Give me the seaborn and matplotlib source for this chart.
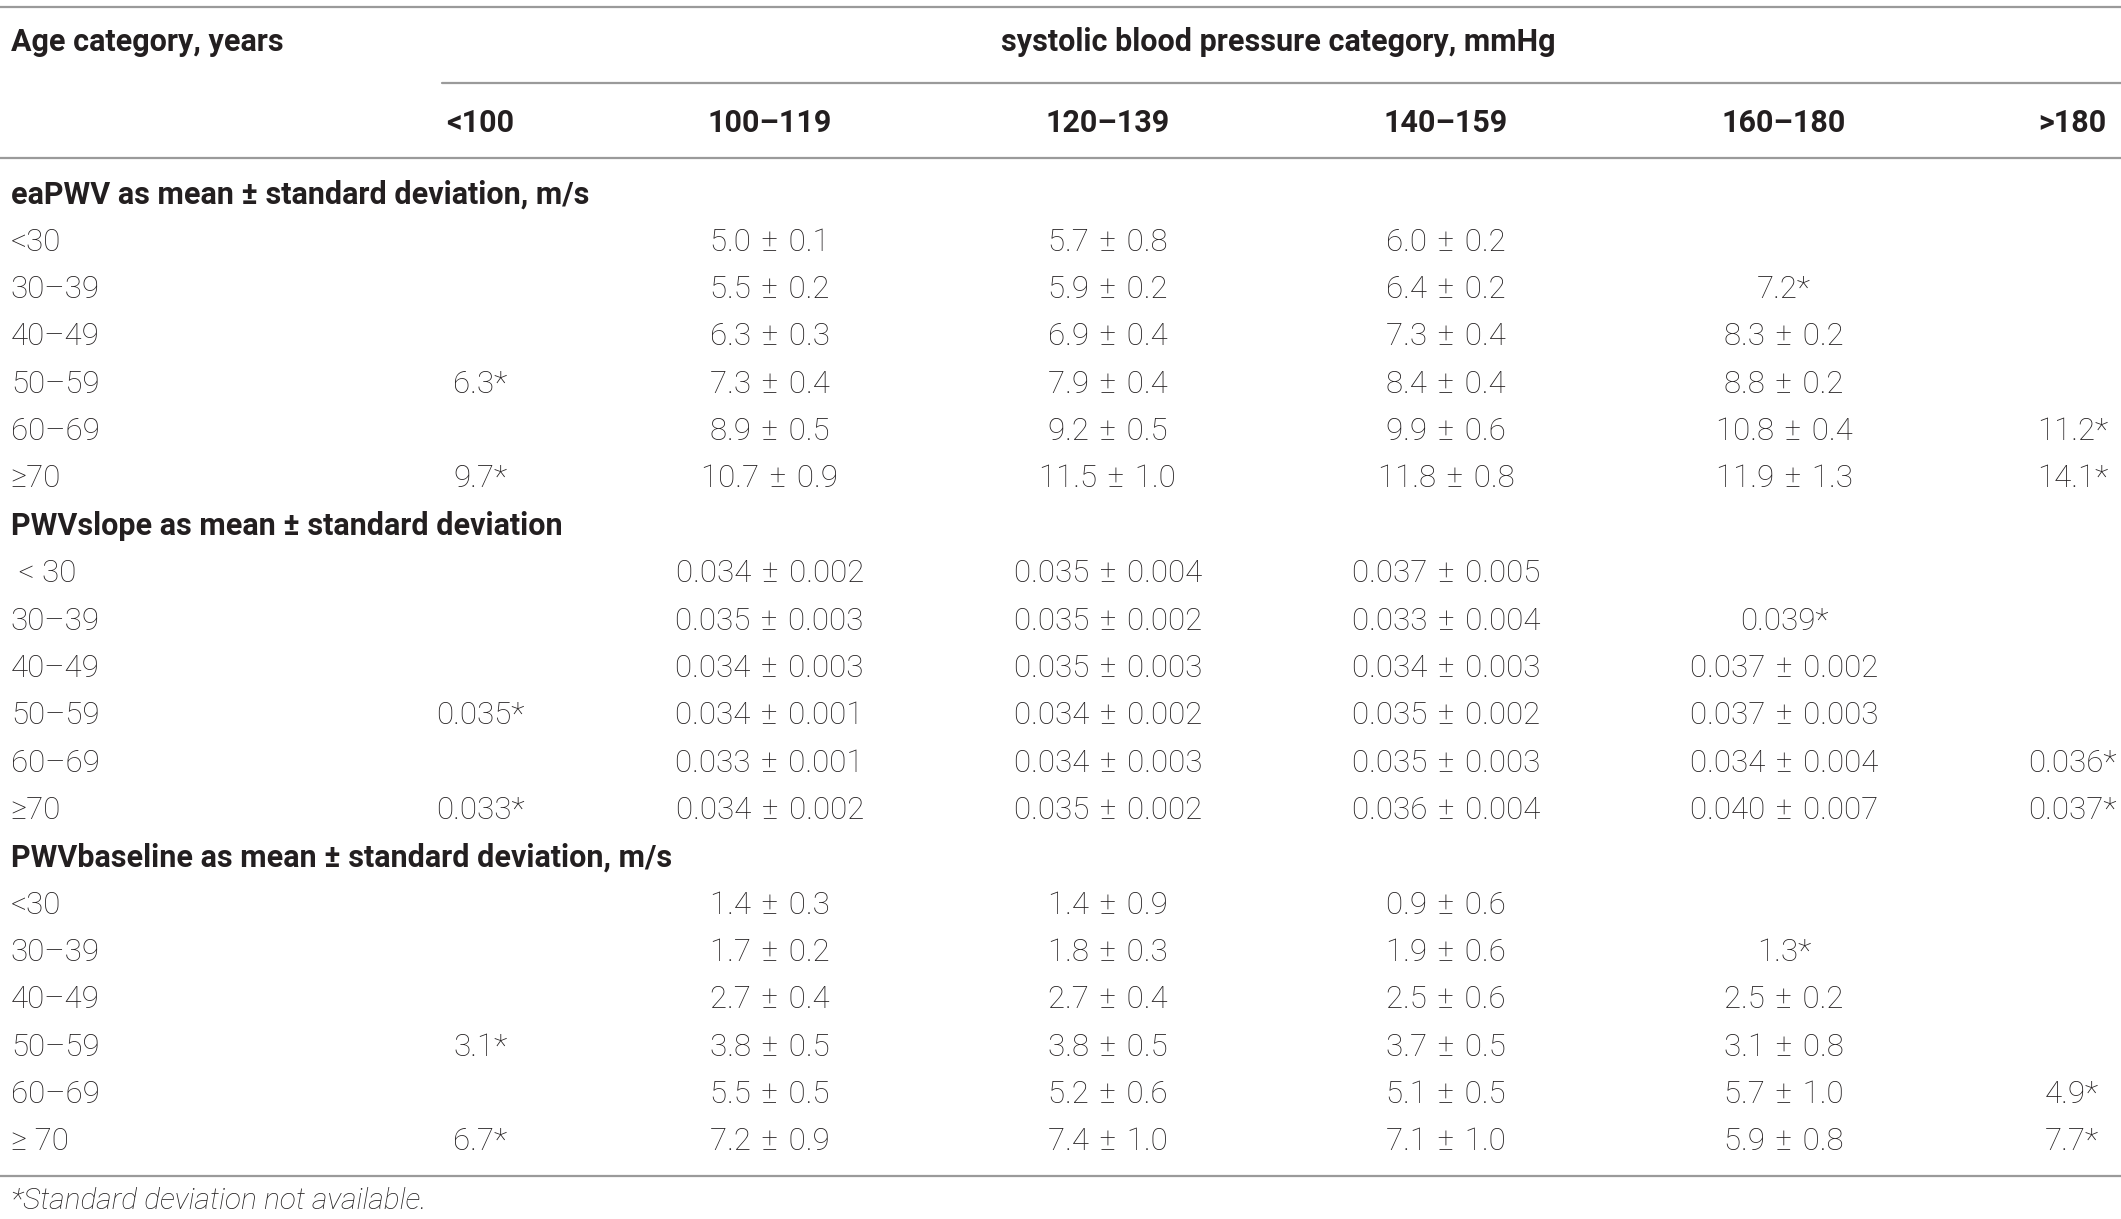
import numpy as np
import matplotlib
matplotlib.use("Agg")
import matplotlib.pyplot as plt
import seaborn as sns

# ---------------- data ----------------
sbp_categories = ["<100", "100–119", "120–139", "140–159", "160–180", ">180"]

sections = [
    "eaPWV as mean ± standard deviation, m/s",
    "PWVslope as mean ± standard deviation",
    "PWVbaseline as mean ± standard deviation, m/s",
]

age_labels_eapwv = ["<30", "30–39", "40–49", "50–59", "60–69", "≥70"]
age_labels_slope = [" < 30", "30–39", "40–49", "50–59", "60–69", "≥70"]
age_labels_base = ["<30", "30–39", "40–49", "50–59", "60–69", "≥ 70"]

nan = np.nan
eapwv_mean = [
    [nan, 5.0, 5.7, 6.0, nan, nan],
    [nan, 5.5, 5.9, 6.4, 7.2, nan],
    [nan, 6.3, 6.9, 7.3, 8.3, nan],
    [6.3, 7.3, 7.9, 8.4, 8.8, nan],
    [nan, 8.9, 9.2, 9.9, 10.8, 11.2],
    [9.7, 10.7, 11.5, 11.8, 11.9, 14.1],
]
eapwv_sd = [
    [nan, 0.1, 0.8, 0.2, nan, nan],
    [nan, 0.2, 0.2, 0.2, nan, nan],
    [nan, 0.3, 0.4, 0.4, 0.2, nan],
    [nan, 0.4, 0.4, 0.4, 0.2, nan],
    [nan, 0.5, 0.5, 0.6, 0.4, nan],
    [nan, 0.9, 1.0, 0.8, 1.3, nan],
]

slope_mean = [
    [nan, 0.034, 0.035, 0.037, nan, nan],
    [nan, 0.035, 0.035, 0.033, 0.039, nan],
    [nan, 0.034, 0.035, 0.034, 0.037, nan],
    [0.035, 0.034, 0.034, 0.035, 0.037, nan],
    [nan, 0.033, 0.034, 0.035, 0.034, 0.036],
    [0.033, 0.034, 0.035, 0.036, 0.040, 0.037],
]
slope_sd = [
    [nan, 0.002, 0.004, 0.005, nan, nan],
    [nan, 0.003, 0.002, 0.004, nan, nan],
    [nan, 0.003, 0.003, 0.003, 0.002, nan],
    [nan, 0.001, 0.002, 0.002, 0.003, nan],
    [nan, 0.001, 0.003, 0.003, 0.004, nan],
    [nan, 0.002, 0.002, 0.004, 0.007, nan],
]

base_mean = [
    [nan, 1.4, 1.4, 0.9, nan, nan],
    [nan, 1.7, 1.8, 1.9, 1.3, nan],
    [nan, 2.7, 2.7, 2.5, 2.5, nan],
    [3.1, 3.8, 3.8, 3.7, 3.1, nan],
    [nan, 5.5, 5.2, 5.1, 5.7, 4.9],
    [6.7, 7.2, 7.4, 7.1, 5.9, 7.7],
]
base_sd = [
    [nan, 0.3, 0.9, 0.6, nan, nan],
    [nan, 0.2, 0.3, 0.6, nan, nan],
    [nan, 0.4, 0.4, 0.6, 0.2, nan],
    [nan, 0.5, 0.5, 0.5, 0.8, nan],
    [nan, 0.5, 0.6, 0.5, 1.0, nan],
    [nan, 0.9, 1.0, 1.0, 0.8, nan],
]

decimals = [1, 3, 1]
footnote = "*Standard deviation not available."
title_left = "Age category, years"
title_group = "systolic blood pressure category, mmHg"

# ---------------- style ----------------
sns.set_theme(style="white")
plt.rcParams["font.family"] = ["Roboto", "DejaVu Sans"]
TXT = "#231f20"
LINE = "#9a9a9a"
FS_B = 22
FS = 22.5
SP = "\u2004"

fig = plt.figure(figsize=(21.21, 12.19), dpi=100)
ax = fig.add_axes([0, 0, 1, 1])
ax.set_xlim(0, 1568)
ax.set_ylim(901, 0)
ax.axis("off")

col_x = [355, 569, 819, 1069, 1319, 1532]
left_x = 8

# rules
ax.axhline(5, color=LINE, lw=1.6)
ax.plot([327, 1568], [61, 61], color=LINE, lw=1.6)
ax.axhline(117, color=LINE, lw=1.6)
ax.axhline(869, color=LINE, lw=1.6)

# headers
ax.text(left_x, 31, title_left, ha="left", va="center", fontsize=FS_B,
        fontweight="bold", color=TXT)
ax.text(945, 31, title_group, ha="center", va="center", fontsize=FS_B,
        fontweight="bold", color=TXT)
for x, lab in zip(col_x, sbp_categories):
    ax.text(x, 91, lab, ha="center", va="center", fontsize=FS_B,
            fontweight="bold", color=TXT)

blocks = [
    (age_labels_eapwv, eapwv_mean, eapwv_sd),
    (age_labels_slope, slope_mean, slope_sd),
    (age_labels_base, base_mean, base_sd),
]

y0 = 144
row_h = 35
y = y0
for (labels, means, sds), title, d in zip(blocks, sections, decimals):
    ax.text(left_x, y, title, ha="left", va="center", fontsize=FS_B,
            fontweight="bold", color=TXT)
    y += row_h
    for lab, mrow, srow in zip(labels, means, sds):
        ax.text(left_x, y, lab, ha="left", va="center", fontsize=FS,
                fontweight="light", color=TXT)
        for x, m, s in zip(col_x, mrow, srow):
            if np.isnan(m):
                continue
            if np.isnan(s):
                txt = f"{m:.{d}f}*"
            else:
                txt = f"{m:.{d}f}{SP}±{SP}{s:.{d}f}"
            ax.text(x, y, txt, ha="center", va="center", fontsize=FS,
                    fontweight="light", color=TXT)
        y += row_h

ax.text(left_x, 888, footnote, ha="left", va="center", fontsize=FS - 1,
        fontstyle="italic", fontweight="light", color=TXT)

fig.savefig("out.png", dpi=100, facecolor="white")
